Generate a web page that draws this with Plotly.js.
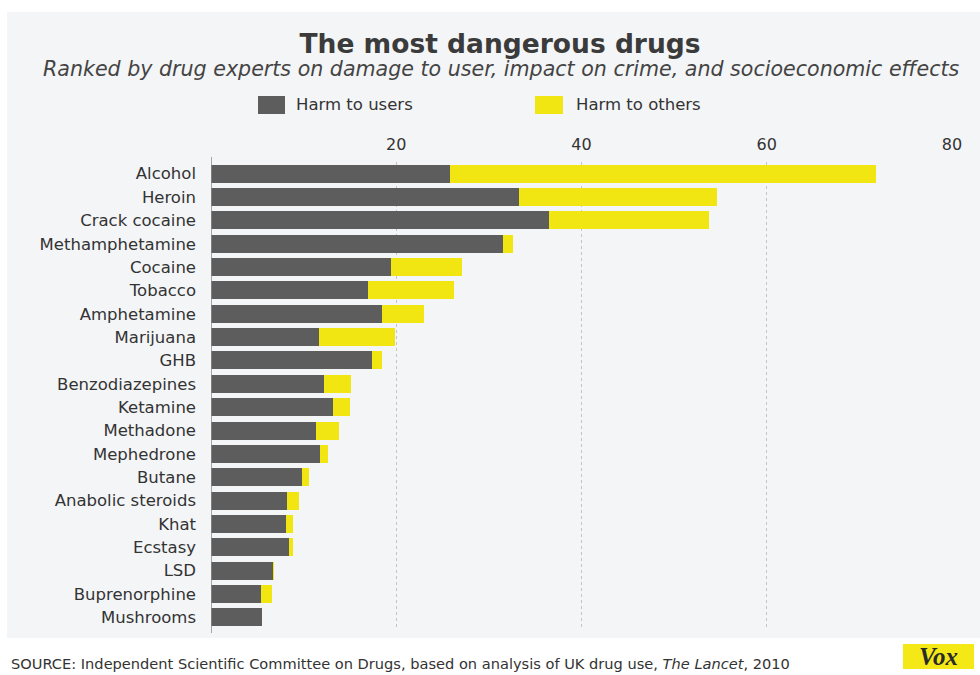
<!DOCTYPE html>
<html>
<head>
<meta charset="utf-8">
<script src="https://cdn.plot.ly/plotly-3.0.1.min.js"></script>
<style>
  html, body { margin: 0; padding: 0; background: #ffffff; }
  #chart { width: 980px; height: 675px; }
</style>
</head>
<body>
<div id="chart"></div>
<script>
// ---- data ----
var drugs = ["Alcohol", "Heroin", "Crack cocaine", "Methamphetamine", "Cocaine", "Tobacco",
  "Amphetamine", "Marijuana", "GHB", "Benzodiazepines", "Ketamine", "Methadone",
  "Mephedrone", "Butane", "Anabolic steroids", "Khat", "Ecstasy", "LSD",
  "Buprenorphine", "Mushrooms"];
var harmToUsers = [25.8, 33.3, 36.5, 31.5, 19.4, 16.9, 18.5, 11.7, 17.4, 12.2, 13.2, 11.3,
  11.8, 9.8, 8.2, 8.1, 8.4, 6.7, 5.4, 5.5];
var harmToOthers = [46.0, 21.3, 17.3, 1.1, 7.7, 9.3, 4.5, 8.2, 1.1, 2.9, 1.8, 2.5,
  0.8, 0.8, 1.3, 0.7, 0.5, 0.1, 1.2, 0.0];
var xTickValues = [20, 40, 60, 80];
var xTickLabels = ["20", "40", "60", "80"];
var seriesNames = ["Harm to users", "Harm to others"];

// ---- styles ----
var GRAY = "#5c5d5c";
var YELLOW = "#f1e612";
var PANEL = "#f4f5f7";
var FONT = "DejaVu Sans, Verdana, sans-serif";

// plot-area pixel frame: left 211, right 952, top 162, bottom 629
var L = 211, R = 952, T = 162, B = 629;
function px(x) { return (x - L) / (R - L); }
function py(y) { return (B - y) / (B - T); }

var traces = [
  { type: "bar", orientation: "h", name: seriesNames[0], y: drugs, x: harmToUsers,
    marker: { color: GRAY, line: { width: 0 } }, hoverinfo: "x+y+name" },
  { type: "bar", orientation: "h", name: seriesNames[1], y: drugs, x: harmToOthers,
    marker: { color: YELLOW, line: { width: 0 } }, hoverinfo: "x+y+name" }
];

var shapes = [
  // light panel
  { type: "rect", xref: "paper", yref: "paper", x0: px(7), x1: px(985), y0: py(638), y1: py(12),
    fillcolor: PANEL, line: { width: 0 }, layer: "below" },
  // vertical axis line at 0
  { type: "line", xref: "x", yref: "paper", x0: 0, x1: 0, y0: py(633), y1: py(157),
    line: { color: "#8a8a8a", width: 1.5 }, layer: "above" },
  // legend swatches
  { type: "rect", xref: "paper", yref: "paper", x0: px(258), x1: px(285), y0: py(114), y1: py(96),
    fillcolor: GRAY, line: { width: 0 } },
  { type: "rect", xref: "paper", yref: "paper", x0: px(535), x1: px(563), y0: py(114), y1: py(96),
    fillcolor: YELLOW, line: { width: 0 } },
  // Vox logo box
  { type: "rect", xref: "paper", yref: "paper", x0: px(903), x1: px(974), y0: py(669), y1: py(644),
    fillcolor: "#f4e816", line: { width: 0 } }
];

var annotations = [
  { xref: "paper", yref: "paper", x: px(501), y: py(69), xanchor: "center", yanchor: "middle",
    showarrow: false, text: "<i>Ranked by drug experts on damage to user, impact on crime, and socioeconomic effects</i>",
    font: { family: FONT, size: 20.6, color: "#444444" } },
  { xref: "paper", yref: "paper", x: px(294), y: py(105), xanchor: "left", yanchor: "middle",
    showarrow: false, text: seriesNames[0], font: { family: FONT, size: 16.5, color: "#333333" } },
  { xref: "paper", yref: "paper", x: px(574), y: py(105), xanchor: "left", yanchor: "middle",
    showarrow: false, text: seriesNames[1], font: { family: FONT, size: 16.5, color: "#333333" } },
  { xref: "paper", yref: "paper", x: px(9), y: py(663), xanchor: "left", yanchor: "middle",
    showarrow: false,
    text: "SOURCE: Independent Scientific Committee on Drugs, based on analysis of UK drug use, <i>The Lancet</i>, 2010",
    font: { family: FONT, size: 14.6, color: "#333333" } },
  { xref: "paper", yref: "paper", x: px(938), y: py(656), xanchor: "center", yanchor: "middle",
    showarrow: false, text: "<b><i>Vox</i></b>",
    font: { family: "Liberation Serif, DejaVu Serif, serif", size: 25, color: "#2a2a2a" } }
];

var layout = {
  width: 980, height: 675,
  margin: { l: L, r: 980 - R, t: T, b: 675 - B, pad: 0 },
  paper_bgcolor: "#ffffff",
  plot_bgcolor: PANEL,
  barmode: "stack",
  bargap: 0.23,
  showlegend: false,
  title: { text: "<b>The most dangerous drugs</b>", x: px(500), xref: "paper", xanchor: "center",
    y: 1 - 44 / 675, yref: "container", yanchor: "middle",
    font: { family: FONT, size: 26.5, color: "#3b3b3b" } },
  xaxis: {
    side: "top", range: [0, 80], tickvals: xTickValues, ticktext: xTickLabels,
    showgrid: true, gridcolor: "#c4c4c4", griddash: "dot", gridwidth: 1,
    zeroline: false, showline: false, ticks: "", ticklabelstandoff: 8,
    tickfont: { family: FONT, size: 16, color: "#333333" }, fixedrange: true
  },
  yaxis: {
    autorange: "reversed", type: "category", showgrid: false, zeroline: false, showline: false,
    ticks: "", ticklabelstandoff: 14,
    tickfont: { family: FONT, size: 16.5, color: "#333333" }, fixedrange: true
  },
  shapes: shapes,
  annotations: annotations
};

Plotly.newPlot("chart", traces, layout, { displayModeBar: false, staticPlot: true });
</script>
</body>
</html>
